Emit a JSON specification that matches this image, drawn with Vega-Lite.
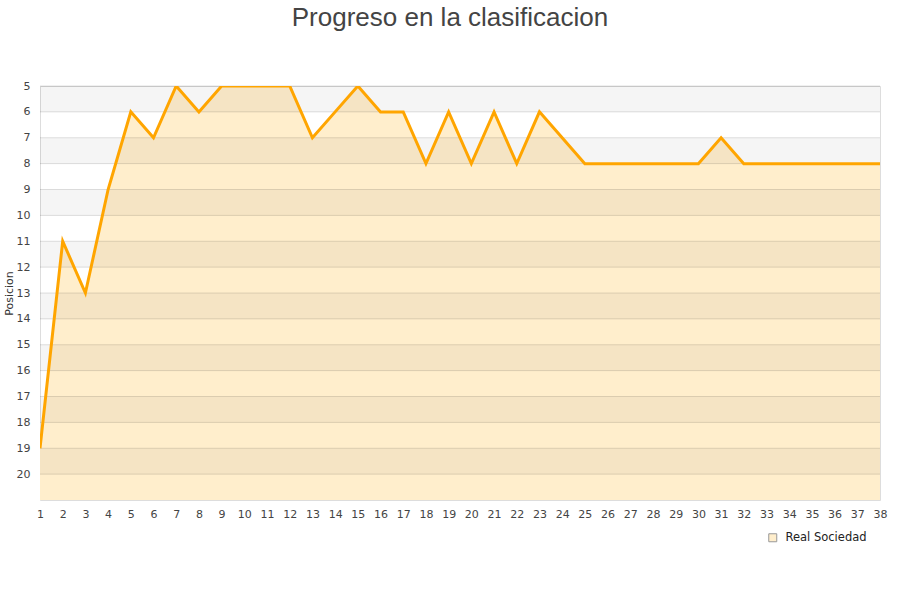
{
  "$schema": "https://vega.github.io/schema/vega-lite/v6.json",
  "autosize": "none",
  "width": 840,
  "height": 414,
  "padding": {"left": 40, "top": 86, "right": 20, "bottom": 100},
  "background": "white",
  "title": {
    "text": "Progreso en la clasificacion",
    "font": "Liberation Sans",
    "fontSize": 26,
    "fontWeight": "normal",
    "color": "#444444",
    "anchor": "middle",
    "dx": -10,
    "offset": 49
  },
  "config": {
    "view": {"stroke": "#dddddd", "strokeWidth": 1},
    "axis": {"labelFont": "DejaVu Sans", "labelFontSize": 11, "labelColor": "#444444", "titleFont": "DejaVu Sans", "titleFontSize": 11, "titleColor": "#333333", "titleFontWeight": "normal", "labelOverlap": false, "labelFlush": false}
  },
  "datasets": {
    "positions": [
      {"jornada": 1, "pos": 19, "team": "Real Sociedad"},
      {"jornada": 2, "pos": 11, "team": "Real Sociedad"},
      {"jornada": 3, "pos": 13, "team": "Real Sociedad"},
      {"jornada": 4, "pos": 9, "team": "Real Sociedad"},
      {"jornada": 5, "pos": 6, "team": "Real Sociedad"},
      {"jornada": 6, "pos": 7, "team": "Real Sociedad"},
      {"jornada": 7, "pos": 5, "team": "Real Sociedad"},
      {"jornada": 8, "pos": 6, "team": "Real Sociedad"},
      {"jornada": 9, "pos": 5, "team": "Real Sociedad"},
      {"jornada": 10, "pos": 5, "team": "Real Sociedad"},
      {"jornada": 11, "pos": 5, "team": "Real Sociedad"},
      {"jornada": 12, "pos": 5, "team": "Real Sociedad"},
      {"jornada": 13, "pos": 7, "team": "Real Sociedad"},
      {"jornada": 14, "pos": 6, "team": "Real Sociedad"},
      {"jornada": 15, "pos": 5, "team": "Real Sociedad"},
      {"jornada": 16, "pos": 6, "team": "Real Sociedad"},
      {"jornada": 17, "pos": 6, "team": "Real Sociedad"},
      {"jornada": 18, "pos": 8, "team": "Real Sociedad"},
      {"jornada": 19, "pos": 6, "team": "Real Sociedad"},
      {"jornada": 20, "pos": 8, "team": "Real Sociedad"},
      {"jornada": 21, "pos": 6, "team": "Real Sociedad"},
      {"jornada": 22, "pos": 8, "team": "Real Sociedad"},
      {"jornada": 23, "pos": 6, "team": "Real Sociedad"},
      {"jornada": 24, "pos": 7, "team": "Real Sociedad"},
      {"jornada": 25, "pos": 8, "team": "Real Sociedad"},
      {"jornada": 26, "pos": 8, "team": "Real Sociedad"},
      {"jornada": 27, "pos": 8, "team": "Real Sociedad"},
      {"jornada": 28, "pos": 8, "team": "Real Sociedad"},
      {"jornada": 29, "pos": 8, "team": "Real Sociedad"},
      {"jornada": 30, "pos": 8, "team": "Real Sociedad"},
      {"jornada": 31, "pos": 7, "team": "Real Sociedad"},
      {"jornada": 32, "pos": 8, "team": "Real Sociedad"},
      {"jornada": 33, "pos": 8, "team": "Real Sociedad"},
      {"jornada": 34, "pos": 8, "team": "Real Sociedad"},
      {"jornada": 35, "pos": 8, "team": "Real Sociedad"},
      {"jornada": 36, "pos": 8, "team": "Real Sociedad"},
      {"jornada": 37, "pos": 8, "team": "Real Sociedad"},
      {"jornada": 38, "pos": 8, "team": "Real Sociedad"}
    ],
    "bands": [
      {"from": 5, "to": 6, "shade": true},
      {"from": 6, "to": 7, "shade": false},
      {"from": 7, "to": 8, "shade": true},
      {"from": 8, "to": 9, "shade": false},
      {"from": 9, "to": 10, "shade": true},
      {"from": 10, "to": 11, "shade": false},
      {"from": 11, "to": 12, "shade": true},
      {"from": 12, "to": 13, "shade": false},
      {"from": 13, "to": 14, "shade": true},
      {"from": 14, "to": 15, "shade": false},
      {"from": 15, "to": 16, "shade": true},
      {"from": 16, "to": 17, "shade": false},
      {"from": 17, "to": 18, "shade": true},
      {"from": 18, "to": 19, "shade": false},
      {"from": 19, "to": 20, "shade": true},
      {"from": 20, "to": 21, "shade": false}
    ]
  },
  "layer": [
    {
      "data": {"name": "positions"},
      "mark": {"type": "area", "clip": true},
      "encoding": {
        "x": {"field": "jornada", "type": "quantitative", "scale": {"domain": [1, 38], "nice": false, "zero": false},
              "axis": {"title": null, "values": [1,2,3,4,5,6,7,8,9,10,11,12,13,14,15,16,17,18,19,20,21,22,23,24,25,26,27,28,29,30,31,32,33,34,35,36,37,38], "labelAngle": 0, "grid": false, "domain": false, "ticks": false, "labelPadding": 8, "labelOverlap": false, "labelFlush": false}},
        "y": {"field": "pos", "type": "quantitative", "scale": {"domain": [5, 21], "reverse": true, "nice": false, "zero": false},
              "axis": {"title": "Posicion", "values": [5,6,7,8,9,10,11,12,13,14,15,16,17,18,19,20], "grid": false, "domain": false, "ticks": false, "labelPadding": 10, "titlePadding": 2, "labelOverlap": false, "labelFlush": false}},
        "y2": {"datum": 21},
        "color": {"field": "team", "type": "nominal", "scale": {"range": ["#ffeecc"]},
                  "legend": {"title": null, "orient": "none", "legendX": 727, "legendY": 446, "symbolType": "square", "symbolSize": 64, "labelOffset": 7,
                             "symbolStrokeColor": "#999999", "symbolStrokeWidth": 1, "symbolOpacity": 1,
                             "labelFont": "DejaVu Sans", "labelFontSize": 11.5, "labelColor": "#222222"}}
      }
    },
    {
      "data": {"name": "bands"},
      "transform": [{"filter": "datum.shade"}],
      "mark": {"type": "rect", "color": "#000000", "opacity": 0.04},
      "encoding": {
        "y": {"field": "from", "type": "quantitative",
              "axis": {"title": "Posicion", "values": [5,6,7,8,9,10,11,12,13,14,15,16,17,18,19,20], "grid": false, "domain": false, "ticks": false, "labelPadding": 10, "titlePadding": 2, "labelOverlap": false, "labelFlush": false}},
        "y2": {"field": "to"},
        "x": {"datum": 1, "type": "quantitative",
              "axis": {"title": null, "values": [1,2,3,4,5,6,7,8,9,10,11,12,13,14,15,16,17,18,19,20,21,22,23,24,25,26,27,28,29,30,31,32,33,34,35,36,37,38], "labelAngle": 0, "grid": false, "domain": false, "ticks": false, "labelPadding": 8, "labelOverlap": false, "labelFlush": false}},
        "x2": {"datum": 38}
      }
    },
    {
      "data": {"name": "bands"},
      "mark": {"type": "rule", "color": "#000000", "opacity": 0.12, "strokeWidth": 1},
      "encoding": {
        "y": {"field": "from", "type": "quantitative",
              "axis": {"title": "Posicion", "values": [5,6,7,8,9,10,11,12,13,14,15,16,17,18,19,20], "grid": false, "domain": false, "ticks": false, "labelPadding": 10, "titlePadding": 2, "labelOverlap": false, "labelFlush": false}}
      }
    },
    {
      "data": {"name": "positions"},
      "mark": {"type": "line", "color": "#ffa500", "strokeWidth": 3, "clip": true},
      "encoding": {
        "x": {"field": "jornada", "type": "quantitative",
              "axis": {"title": null, "values": [1,2,3,4,5,6,7,8,9,10,11,12,13,14,15,16,17,18,19,20,21,22,23,24,25,26,27,28,29,30,31,32,33,34,35,36,37,38], "labelAngle": 0, "grid": false, "domain": false, "ticks": false, "labelPadding": 8, "labelOverlap": false, "labelFlush": false}},
        "y": {"field": "pos", "type": "quantitative",
              "axis": {"title": "Posicion", "values": [5,6,7,8,9,10,11,12,13,14,15,16,17,18,19,20], "grid": false, "domain": false, "ticks": false, "labelPadding": 10, "titlePadding": 2, "labelOverlap": false, "labelFlush": false}}
      }
    }
  ]
}
